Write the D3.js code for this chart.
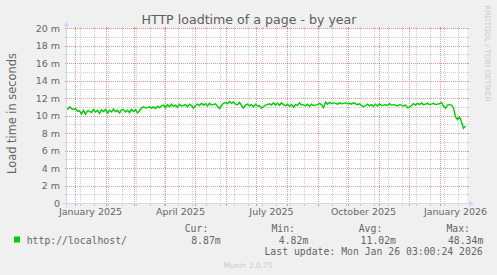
<!DOCTYPE html>
<html><head><meta charset="utf-8">
<script src="https://cdn.jsdelivr.net/npm/d3@7"></script>
<style>
html,body{margin:0;padding:0;background:#f0f0f0;}
svg{display:block;}
</style></head><body>
<svg id="chart" width="497" height="275"></svg>
<script>
// ---------- data ----------
const chartTitle = "HTTP loadtime of a page - by year";
const yAxisTitle = "Load time in seconds";
const seriesName = "http://localhost/";
const seriesStart = "2024-12-24";   // first sample (UTC)
const seriesStepDays = 2;           // days between samples
const loadTimeMs = [
  10.7, 11.05, 10.85, 10.75, 10.85, 10.55, 10.6, 10.25, 10.65, 10.2,
  10.6, 10.55, 10.4, 10.75, 10.45, 10.65, 10.3, 10.7, 10.5, 10.75,
  10.35, 10.65, 10.45, 10.8, 10.5, 10.65, 10.35, 10.7, 10.75, 10.45,
  10.65, 10.4, 10.75, 10.5, 10.7, 10.35, 10.6, 10.9, 11.05, 10.9,
  10.95, 11.05, 10.9, 11.05, 10.85, 11.1, 10.95, 11.15, 11.25, 10.95,
  11.3, 11.05, 11.35, 11.1, 11.25, 11.0, 11.35, 11.15, 11.2, 11.3,
  11.05, 11.35, 11.2, 10.9, 11.2, 11.35, 11.2, 11.45, 11.25, 11.4,
  11.15, 11.45, 11.25, 11.3, 11.4, 11.1, 10.85, 11.2, 11.45, 11.55,
  11.4, 11.65, 11.45, 11.6, 11.35, 11.3, 11.55, 11.2, 10.9, 11.25,
  11.35, 11.15, 11.3, 11.05, 11.35, 11.15, 11.2, 10.9, 11.05, 11.25,
  11.3, 11.4, 11.25, 11.5, 11.25, 11.45, 11.2, 11.5, 11.3, 11.15,
  11.35, 11.1, 11.3, 11.0, 11.3, 11.2, 11.5, 11.25, 11.3, 11.15,
  11.35, 11.1, 11.35, 11.2, 11.25, 11.3, 11.45, 11.3, 10.95, 11.6,
  11.35, 11.55, 11.4, 11.5, 11.45, 11.35, 11.5, 11.4, 11.45, 11.5,
  11.4, 11.45, 11.35, 11.5, 11.4, 11.3, 11.4, 11.2, 11.05, 11.2,
  11.35, 11.15, 11.3, 11.1, 11.35, 11.15, 11.4, 11.2, 11.25, 11.3,
  11.2, 11.4, 11.25, 11.3, 11.25, 11.15, 11.3, 11.25, 11.15, 11.25,
  10.95, 11.0, 11.2, 11.4, 11.25, 11.45, 11.3, 11.5, 11.3, 11.35,
  11.45, 11.3, 11.35, 11.45, 11.3, 11.35, 11.4, 11.55, 11.1, 10.9,
  11.25, 11.3, 11.25, 10.95, 9.9, 9.6, 9.9, 9.35, 8.6, 8.87
];
const xDomain = ["2024-12-23T12:00:00Z", "2026-01-27T12:00:00Z"];
const yDomain = [0, 20];
const yMajorTicks = [0, 2, 4, 6, 8, 10, 12, 14, 16, 18, 20];
const yTickLabels = ["0", "2 m", "4 m", "6 m", "8 m", "10 m", "12 m", "14 m", "16 m", "18 m", "20 m"];
const yMinorTicks = [1, 3, 5, 7, 9, 11, 13, 15, 17, 19];
const xLabelMonths = ["2025-01-01", "2025-04-01", "2025-07-01", "2025-10-01", "2026-01-01"];
const xLabelTexts = ["January 2025", "April 2025", "July 2025", "October 2025", "January 2026"];
const minorGridFirstMonday = "2024-12-23";
const minorGridStepDays = 14;
const legendHeaders = ["Cur:", "Min:", "Avg:", "Max:"];
const legendValues = ["8.87m", "4.82m", "11.02m", "48.34m"];
const lastUpdate = "Last update: Mon Jan 26 03:00:24 2026";
const footerText = "Munin 2.0.75";
const watermark = "RRDTOOL / TOBI OETIKER";

// ---------- layout ----------
const X0 = 67, X1 = 467, Y0 = 203.5, Y1 = 28.5;
const FONT = "DejaVu Sans, Verdana, sans-serif";
const MONO = "DejaVu Sans Mono, monospace";
const TXT = "#666666";
const AXIS = "#CFD6F8";
const GRID = "rgba(191,191,191,0.75)";
const MGRID = "rgba(222,79,79,0.6)";

const svg = d3.select("#chart");
svg.append("rect").attr("width", 497).attr("height", 275).attr("fill", "#f0f0f0");
svg.append("rect").attr("x", X0).attr("y", Y1).attr("width", X1 - X0).attr("height", Y0 - Y1).attr("fill", "#ffffff");

const x = d3.scaleUtc().domain(xDomain.map(d => new Date(d))).range([X0, X1]);
const y = d3.scaleLinear().domain(yDomain).range([Y0, Y1]);
const snap = v => Math.floor(v) + 0.5;

const grid = svg.append("g").attr("shape-rendering", "crispEdges");

function hGrid(vals, color) {
  vals.forEach(v => {
    const yy = snap(y(v));
    grid.append("line").attr("x1", X0 - 2).attr("x2", X0).attr("y1", yy).attr("y2", yy).attr("stroke", color);
    grid.append("line").attr("x1", X1).attr("x2", X1 + 2).attr("y1", yy).attr("y2", yy).attr("stroke", color);
    grid.append("line").attr("x1", X0).attr("x2", X1).attr("y1", yy).attr("y2", yy)
      .attr("stroke", color).attr("stroke-dasharray", "1,1");
  });
}
function vGrid(dates, color) {
  dates.forEach(d => {
    const xx = snap(x(d));
    grid.append("line").attr("x1", xx).attr("x2", xx).attr("y1", Y0).attr("y2", Y0 + 2).attr("stroke", color);
    grid.append("line").attr("x1", xx).attr("x2", xx).attr("y1", Y1 - 2).attr("y2", Y1).attr("stroke", color);
    grid.append("line").attr("x1", xx).attr("x2", xx).attr("y1", Y1).attr("y2", Y0)
      .attr("stroke", color).attr("stroke-dasharray", "1,1");
  });
}

const dom = x.domain();
const majorDates = d3.utcMonth.range(d3.utcMonth.ceil(dom[0]), dom[1]);
const majorSet = new Set(majorDates.map(d => +d));
const minorDates = d3.utcDay.range(new Date(minorGridFirstMonday + "T00:00:00Z"), dom[1], minorGridStepDays)
  .filter(d => d >= dom[0] && !majorSet.has(+d));

hGrid(yMinorTicks, GRID);
vGrid(minorDates, GRID);
hGrid(yMajorTicks, MGRID);
vGrid(majorDates, MGRID);

// y tick labels
svg.append("g").selectAll("text").data(yMajorTicks).join("text")
  .attr("x", 60).attr("y", d => y(d) + 3.4)
  .attr("text-anchor", "end").attr("font-family", FONT).attr("font-size", 9.5).attr("fill", TXT)
  .text((d, i) => yTickLabels[i]);

// x labels (centered mid-month like rrdtool)
svg.append("g").selectAll("text").data(xLabelMonths).join("text")
  .attr("x", d => x(d3.utcDay.offset(new Date(d + "T00:00:00Z"), 15)))
  .attr("y", 215.3)
  .attr("text-anchor", "middle").attr("font-family", FONT).attr("font-size", 9.5).attr("fill", TXT)
  .text((d, i) => xLabelTexts[i]);

// series
const startDate = new Date(seriesStart + "T00:00:00Z");
const pts = loadTimeMs.map((v, i) => ({ t: d3.utcDay.offset(startDate, i * seriesStepDays), v }));
svg.append("clipPath").attr("id", "clip").append("rect")
  .attr("x", X0).attr("y", Y1).attr("width", X1 - X0).attr("height", Y0 - Y1);
svg.append("path").datum(pts)
  .attr("clip-path", "url(#clip)")
  .attr("fill", "none").attr("stroke", "#00cc00").attr("stroke-width", 1.4)
  .attr("stroke-linejoin", "miter")
  .attr("d", d3.line().x(d => x(d.t)).y(d => y(d.v)));

// axes + arrows
const ax = svg.append("g").attr("shape-rendering", "crispEdges");
ax.append("line").attr("x1", X0 - 4).attr("x2", X1 + 4).attr("y1", Y0).attr("y2", Y0).attr("stroke", AXIS);
ax.append("line").attr("x1", X0 - 0.5).attr("x2", X0 - 0.5).attr("y1", Y0 + 4).attr("y2", Y1 - 4).attr("stroke", AXIS);
svg.append("path").attr("fill", AXIS)
  .attr("d", `M${X1 + 2},${Y0 - 3}L${X1 + 2},${Y0 + 3}L${X1 + 7},${Y0}Z`);
svg.append("path").attr("fill", AXIS)
  .attr("d", `M${X0 - 3.5},${Y1 - 2}L${X0 + 2.5},${Y1 - 2}L${X0 - 0.5},${Y1 - 7}Z`);

// title
svg.append("text").attr("x", 249).attr("y", 23.5).attr("text-anchor", "middle")
  .attr("font-family", FONT).attr("font-size", 12.6).attr("fill", "#5e5e5e").text(chartTitle);

// y axis title
svg.append("text").attr("transform", "translate(15.5,113.5) rotate(-90)")
  .attr("text-anchor", "middle").attr("font-family", FONT).attr("font-size", 11.4).attr("fill", TXT)
  .text(yAxisTitle);

// watermark
svg.append("text").attr("transform", "translate(485,53.5) rotate(90)")
  .attr("text-anchor", "middle").attr("font-family", FONT).attr("font-size", 7.5).attr("fill", "#cccccc")
  .text(watermark);

// legend
const headerEnds = [208.3, 295, 382.3, 470];
const valueEnds = [220.7, 308.3, 396, 483.3];
const lg = svg.append("g").attr("font-family", MONO).attr("font-size", 9.8).attr("fill", TXT);
lg.selectAll("text.h").data(legendHeaders).join("text").attr("class", "h")
  .attr("x", (d, i) => headerEnds[i]).attr("y", 232).attr("text-anchor", "end").text(d => d);
lg.selectAll("text.v").data(legendValues).join("text").attr("class", "v")
  .attr("x", (d, i) => valueEnds[i]).attr("y", 243.5).attr("text-anchor", "end").text(d => d);
lg.append("text").attr("x", 26.7).attr("y", 243.5).text(seriesName);
lg.append("text").attr("x", 482.7).attr("y", 255).attr("text-anchor", "end").text(lastUpdate);
svg.append("rect").attr("x", 14).attr("y", 236.5).attr("width", 6).attr("height", 6).attr("fill", "#00cc00");

// footer
svg.append("text").attr("x", 248).attr("y", 268).attr("text-anchor", "middle")
  .attr("font-family", FONT).attr("font-size", 7.5).attr("fill", "#cccccc").text(footerText);
</script>
</body></html>
